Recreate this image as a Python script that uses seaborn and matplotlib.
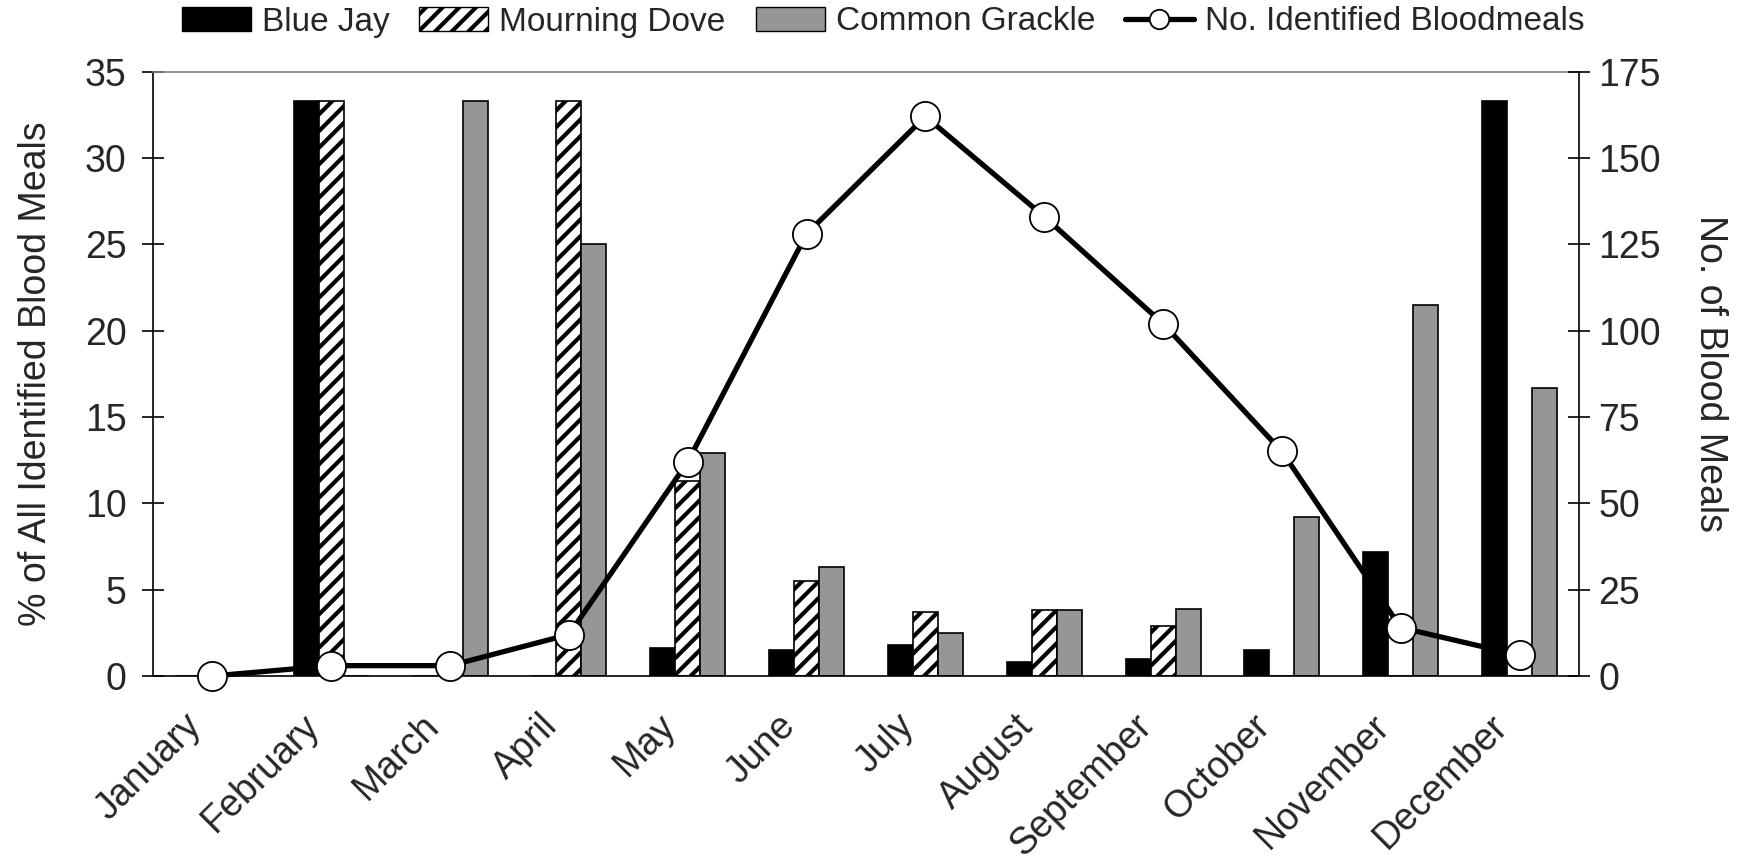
import numpy as np
import pandas as pd
import matplotlib
matplotlib.use("Agg")
import matplotlib.pyplot as plt
import matplotlib.transforms as mtransforms
import seaborn as sns
from matplotlib.patches import Patch
from matplotlib.lines import Line2D

# ---- data ----
months = ["January", "February", "March", "April", "May", "June",
          "July", "August", "September", "October", "November", "December"]
species = ["Blue Jay", "Mourning Dove", "Common Grackle"]
blue_jay = [0, 33.3, 0, 0, 1.6, 1.5, 1.8, 0.8, 1.0, 1.5, 7.2, 33.3]
mourning_dove = [0, 33.3, 0, 33.3, 11.3, 5.5, 3.7, 3.8, 2.9, 0, 0, 0]
common_grackle = [0, 0, 33.3, 25.0, 12.9, 6.3, 2.5, 3.8, 3.9, 9.2, 21.5, 16.7]
bloodmeals = [0, 3, 3, 12, 62, 128, 162, 133, 102, 65, 14, 6]
line_label = "No. Identified Bloodmeals"
left_ylabel = "% of All Identified Blood Meals"
right_ylabel = "No. of Blood Meals"

# ---- style ----
sns.set_style("white")
plt.rcParams["font.family"] = ["Liberation Sans", "DejaVu Sans"]
plt.rcParams["hatch.linewidth"] = 3.0
plt.rcParams["hatch.color"] = "black"

bar_colors = ["black", "white", "#969696"]

df = pd.DataFrame({
    "Month": months * 3,
    "Species": np.repeat(species, len(months)),
    "Pct": blue_jay + mourning_dove + common_grackle,
})

fig = plt.figure(figsize=(17.52, 8.6), dpi=100)
ax = fig.add_axes([153 / 1752, 1 - 676 / 860, 1426 / 1752, 604.5 / 860])

sns.barplot(data=df, x="Month", y="Pct", hue="Species", order=months,
            hue_order=species, palette=bar_colors, saturation=1,
            width=0.63, gap=0, edgecolor="black", linewidth=1.2,
            errorbar=None, legend=False, ax=ax)
for bar in ax.containers[1]:
    bar.set_hatch("//")

ax.set_xlim(-0.5, 11.5)
ax.set_ylim(0, 35)
ax.set_yticks(np.arange(0, 36, 5))
ax.set_xlabel("")
ax.set_ylabel(left_ylabel, fontsize=27, labelpad=22)

# month labels (rotated, anchored under each category)
ax.set_xticks(np.arange(len(months)))
ax.set_xticklabels([])
ax.tick_params(axis="x", which="major", length=0)
offset = mtransforms.ScaledTranslation(-0.17, -0.445, fig.dpi_scale_trans)
for i, m in enumerate(months):
    ax.text(i, 0, m, transform=ax.get_xaxis_transform() + offset,
            rotation=45, ha="right", va="center", rotation_mode="anchor",
            fontsize=27)

ax.set_xticks(np.arange(-0.5, len(months), 1), minor=True)
ax.tick_params(axis="x", which="minor", direction="inout", length=16,
               width=1.2, color="black")
ax.tick_params(axis="y", direction="inout", length=16, width=1.2,
               labelsize=27, pad=11, left=True, color="black")

for s in ["left", "bottom"]:
    ax.spines[s].set_color("black")
    ax.spines[s].set_linewidth(1.2)
ax.spines["top"].set_color("#808080")
ax.spines["top"].set_linewidth(1.2)
ax.spines["right"].set_visible(False)

# ---- line on secondary axis ----
ax2 = ax.twinx()
sns.lineplot(x=np.arange(len(months)), y=bloodmeals, ax=ax2, color="black",
             linewidth=3.8, marker="o", markersize=21,
             markerfacecolor="white", markeredgecolor="black",
             markeredgewidth=1.3, clip_on=False, zorder=5)
ax2.set_ylim(0, 175)
ax2.set_yticks(np.arange(0, 176, 25))
ax2.set_xlim(-0.5, 11.5)
ax2.set_ylabel(right_ylabel, fontsize=27, rotation=270, va="bottom",
               labelpad=22)
ax2.tick_params(axis="y", direction="inout", length=16, width=1.2,
                labelsize=27, pad=6, right=True, color="black")
for s in ["left", "top", "bottom"]:
    ax2.spines[s].set_visible(False)
ax2.spines["right"].set_color("black")
ax2.spines["right"].set_linewidth(1.2)

# ---- legend ----
handles = [
    Patch(facecolor=bar_colors[0], edgecolor="black"),
    Patch(facecolor=bar_colors[1], edgecolor="black", hatch="//"),
    Patch(facecolor=bar_colors[2], edgecolor="black"),
    Line2D([], [], color="black", linewidth=3.8, marker="o", markersize=14,
           markerfacecolor="white", markeredgecolor="black",
           markeredgewidth=1.3),
]
labels = species + [line_label]
fig.legend(handles, labels, loc="center",
           bbox_to_anchor=(883 / 1752, 1 - 22 / 860), ncol=4,
           frameon=False, fontsize=24, handlelength=2.07, handleheight=0.72,
           handletextpad=0.33, columnspacing=0.9)

fig.savefig("out.png", dpi=100)
